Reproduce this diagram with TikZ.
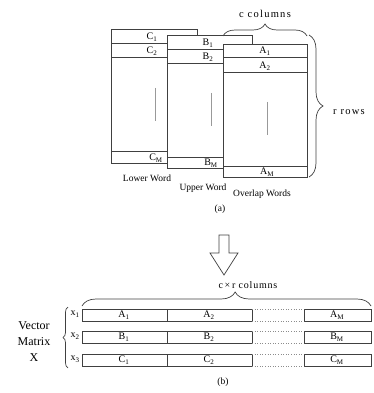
\documentclass[tikz,border=0pt]{standalone}
\usepackage{fontspec}
\setmainfont{Liberation Serif}
\usetikzlibrary{decorations.pathreplacing}

\begin{document}
\begin{tikzpicture}[x=1pt,y=-1pt]
\tikzset{
  wordblock/.style={draw=black!75,fill=white,line width=0.7pt},
  rowline/.style={draw=black!75,line width=0.7pt},
  gapline/.style={draw=black!45,line width=0.6pt,dotted},
  dotsline/.style={draw=black!40,line width=0.6pt},
  celltext/.style={inner sep=0pt,font=\fontsize{10}{12}\selectfont},
  wordtext/.style={inner sep=0pt,font=\fontsize{9.5}{11}\selectfont},
  spacedtext/.style={inner sep=0pt,font=\fontsize{10.5}{12}\selectfont\addfontfeatures{LetterSpace=12}},
  bracepath/.style={draw=black!75,line width=0.7pt,decorate,decoration={brace,amplitude=#1}}
}
\useasboundingbox (0,0) rectangle (374,393);

% (a) lower, upper and overlap words
\filldraw[wordblock] (111,29) rectangle (197,163);
\draw[rowline] (111,43) -- (197,43);
\draw[rowline] (111,57) -- (197,57);
\draw[rowline] (111,151) -- (197,151);
\draw[dotsline] (155,88) -- (155,121);
\filldraw[wordblock] (167,35) rectangle (252,168);
\draw[rowline] (167,49) -- (252,49);
\draw[rowline] (167,63) -- (252,63);
\draw[rowline] (167,157) -- (252,157);
\draw[dotsline] (211,93) -- (211,126);
\filldraw[wordblock] (223,44) rectangle (307,177);
\draw[rowline] (223,57) -- (307,57);
\draw[rowline] (223,72) -- (307,72);
\draw[rowline] (223,166) -- (307,166);
\draw[dotsline] (267,102) -- (267,135);

\node[celltext] (n_C1) at (152,37) {C\textsubscript{1}};
\node[celltext] (n_C2) at (152,51) {C\textsubscript{2}};
\node[celltext] (n_CM) at (156,158) {C\textsubscript{M}};
\node[celltext] (n_B1) at (208,43) {B\textsubscript{1}};
\node[celltext] (n_B2) at (208,57) {B\textsubscript{2}};
\node[celltext] (n_BM) at (211,163) {B\textsubscript{M}};
\node[celltext] (n_A1) at (265,51) {A\textsubscript{1}};
\node[celltext] (n_A2) at (265,66) {A\textsubscript{2}};
\node[celltext] (n_AM) at (267,172) {A\textsubscript{M}};

\node[wordtext] (n_lower) at (147,178) {Lower Word};
\node[wordtext] (n_upper) at (203,188) {Upper Word};
\node[wordtext] (n_overlap) at (262,194) {Overlap Words};
\node[wordtext] (n_a) at (220,209) {(a)};

\coordinate (c_top1) at (223,36);
\coordinate (c_top2) at (307,36);
\draw[bracepath=12] (c_top1) -- (c_top2);
\node[spacedtext] (n_ccol) at (265,14) {c columns};
\coordinate (r_top) at (309,35);
\coordinate (r_bot) at (309,177);
\draw[bracepath=14] (r_top) -- (r_bot);
\node[spacedtext,anchor=west] (n_rrows) at (333,112) {r rows};

% hollow arrow down
\draw[rowline,fill=white,line join=miter] (219,235) -- (229,235) -- (229,253) -- (238,253)
  -- (224,275) -- (210,253) -- (219,253) -- cycle;

% (b) vector matrix
\foreach \y/\r/\k in {309/A/1,331/B/2,354/C/3}{
  \draw[rowline] (252,\y) -- (82,\y) -- (82,\y+12) -- (252,\y+12) -- cycle;
  \draw[rowline] (167,\y) -- (167,\y+12);
  \draw[rowline] (304,\y) -- (371,\y) -- (371,\y+12) -- (304,\y+12) -- cycle;
  \draw[gapline] (252,\y) -- (304,\y);
  \draw[gapline] (252,\y+12) -- (304,\y+12);
  \node[celltext] (n_\r b1) at (124,\y+6) {\r\textsubscript{1}};
  \node[celltext] (n_\r b2) at (209,\y+6) {\r\textsubscript{2}};
  \node[celltext] (n_\r bM) at (337,\y+6) {\r\textsubscript{M}};
  \node[celltext] (n_x\k) at (75,\y+5) {x\textsubscript{\k}};
}
\coordinate (x_bot) at (68,368);
\coordinate (x_top) at (68,307);
\draw[bracepath=5] (x_bot) -- (x_top);
\node[inner sep=0pt,align=center,font=\fontsize{12}{16}\selectfont] (n_vec) at (34,342) {Vector\\Matrix\\X};

\coordinate (cr_left) at (82,306);
\coordinate (cr_right) at (371,306);
\draw[bracepath=14,decoration={aspect=0.53}] (cr_left) -- (cr_right);
\node[spacedtext,font=\fontsize{10}{12}\selectfont\addfontfeatures{LetterSpace=8}] (n_crcol) at (248,285) {c\,×\,r columns};
\node[wordtext] (n_b) at (223,382) {(b)};
\end{tikzpicture}
\end{document}
